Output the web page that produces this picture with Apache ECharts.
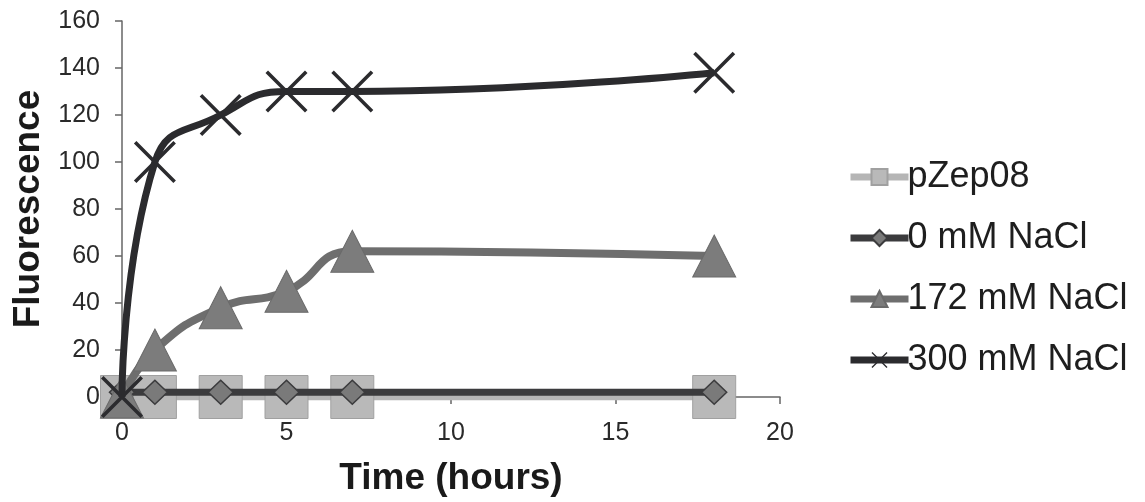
<!DOCTYPE html>
<html>
<head>
<meta charset="utf-8">
<script src="https://cdn.jsdelivr.net/npm/echarts@6/dist/echarts.min.js"></script>
<style>
html,body{margin:0;padding:0;background:#fff;}
#chart{width:1145px;height:502px;}
</style>
</head>
<body>
<div id="chart"></div>
<script>
// Data
var timeHours = [0, 1, 3, 5, 7, 18];
var seriesNames = ['pZep08', '0 mM NaCl', '172 mM NaCl', '300 mM NaCl'];
var pZep08 = [0, 0, 0, 0, 0, 0];
var nacl0 = [2, 2, 2, 2, 2, 2];
var nacl172 = [0, 20, 38, 45, 62, 60];
var nacl300 = [0, 100, 120, 130, 130, 138];
var xTicks = [0, 5, 10, 15, 20];
var yTicks = [0, 20, 40, 60, 80, 100, 120, 140, 160];

function pairs(vals) {
  return timeHours.map(function (t, i) { return [t, vals[i]]; });
}

var crossPath = 'path://M0,6 L6,0 L50,44 L94,0 L100,6 L56,50 L100,94 L94,100 L50,56 L6,100 L0,94 L44,50 Z';
var FONT = 'Liberation Sans, Arial, sans-serif';

var chart = echarts.init(document.getElementById('chart'));
chart.setOption({
  animation: false,
  backgroundColor: '#ffffff',
  grid: { left: 122, right: 365, top: 21, bottom: 105, containLabel: false },
  xAxis: {
    type: 'value',
    min: xTicks[0], max: xTicks[xTicks.length - 1], interval: 5,
    name: 'Time (hours)',
    nameLocation: 'middle',
    nameGap: 63,
    nameTextStyle: { fontFamily: FONT, fontSize: 37, fontWeight: 'bold', color: '#1a1a1a' },
    axisLine: { lineStyle: { color: '#666', width: 1.5 } },
    axisTick: { show: true, length: 7, inside: false, lineStyle: { color: '#666', width: 1.5 } },
    axisLabel: { fontFamily: FONT, fontSize: 25, color: '#2a2a2a', margin: 24 },
    splitLine: { show: false }
  },
  yAxis: {
    type: 'value',
    min: yTicks[0], max: yTicks[yTicks.length - 1], interval: 20,
    name: 'Fluorescence',
    nameLocation: 'middle',
    nameGap: 72,
    nameRotate: 90,
    nameTextStyle: { fontFamily: FONT, fontSize: 37, fontWeight: 'bold', color: '#1a1a1a' },
    axisLine: { show: true, lineStyle: { color: '#666', width: 1.5 } },
    axisTick: { show: true, length: 7, lineStyle: { color: '#666', width: 1.5 } },
    axisLabel: { fontFamily: FONT, fontSize: 25, color: '#2a2a2a', margin: 22, padding: [8, 0, 0, 0] },
    splitLine: { show: false }
  },
  legend: {
    orient: 'vertical',
    left: 842,
    top: 154,
    itemWidth: 58,
    itemHeight: 20,
    itemGap: 25,
    lineStyle: { width: 7 },
    textStyle: { fontFamily: FONT, fontSize: 36, color: '#1e1e1e', padding: [0, 0, 0, -6] },
    data: seriesNames
  },
  series: [
    {
      name: seriesNames[0], type: 'line', smooth: true,
      data: pairs(pZep08),
      symbol: 'rect', symbolSize: 43,
      lineStyle: { color: '#b5b5b5', width: 7 },
      itemStyle: { color: '#b9b9b9', borderColor: '#a0a0a0', borderWidth: 1 },
      z: 2
    },
    {
      name: seriesNames[1], type: 'line', smooth: true,
      data: pairs(nacl0),
      symbol: 'diamond', symbolSize: [25, 24],
      lineStyle: { color: '#3b3b3d', width: 7 },
      itemStyle: { color: '#7a7a7a', borderColor: '#3b3b3d', borderWidth: 1.5 },
      z: 3
    },
    {
      name: seriesNames[2], type: 'line', smooth: true,
      data: pairs(nacl172),
      symbol: 'triangle', symbolSize: [43, 42],
      lineStyle: { color: '#6e6e6e', width: 8 },
      itemStyle: { color: '#7c7c7c', borderColor: '#6a6a6a', borderWidth: 1 },
      z: 4
    },
    {
      name: seriesNames[3], type: 'line', smooth: true,
      data: pairs(nacl300),
      symbol: crossPath, symbolSize: 42,
      lineStyle: { color: '#2b2b2e', width: 7 },
      itemStyle: { color: '#2b2b2e' },
      z: 5
    }
  ]
});
</script>
</body>
</html>
